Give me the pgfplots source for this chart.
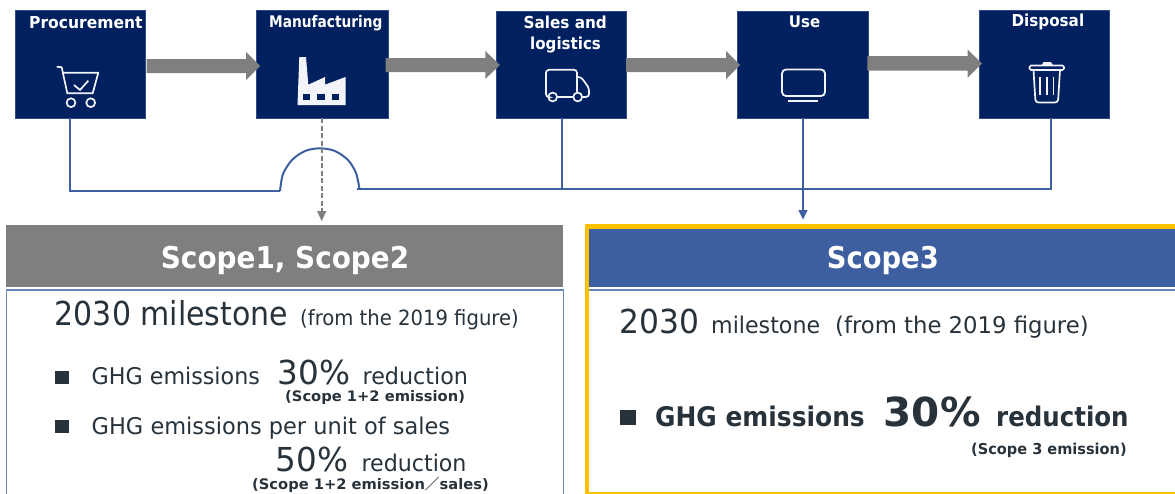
\documentclass[border=0pt]{standalone}
\usepackage{pgfplots}
\usepackage{fontspec}
\setmainfont{DejaVu Sans}
\newfontfamily\cjk{Noto Sans CJK JP}
\pgfplotsset{compat=1.18}
\definecolor{navy}{HTML}{002060}
\definecolor{navyedge}{HTML}{2F4A86}
\definecolor{arr}{HTML}{7F7F7F}
\definecolor{lblue}{HTML}{3E5F9F}
\definecolor{frameblue}{HTML}{6A85B8}
\definecolor{gold}{HTML}{FFC000}
\definecolor{txt}{HTML}{28323B}
\definecolor{ico}{HTML}{F2F4F9}
\newcommand{\tx}[6][txt]{\node[anchor=base west,inner sep=0pt,text=#1] at (axis cs:#2,#3) {\resizebox{#5pt}{\height}{\fontsize{#4}{#4}\selectfont #6}};}
\begin{document}
\begin{tikzpicture}
\path[use as bounding box] (0,0) rectangle (1175pt,493pt);
\begin{axis}[
  at={(0,0)}, anchor=south west,
  scale only axis, width=1175pt, height=493pt,
  xmin=0, xmax=1175, ymin=0, ymax=493, y dir=reverse,
  hide axis, no markers, line join=miter,
]
% process boxes
\addplot[fill=navy,draw=navyedge,line width=0.6pt] coordinates {(15.5,10)(145.7,10)(145.7,118)(15.5,118)} --cycle;
\addplot[fill=navy,draw=navyedge,line width=0.6pt] coordinates {(256.5,10)(388,10)(388,118)(256.5,118)} --cycle;
\addplot[fill=navy,draw=navyedge,line width=0.6pt] coordinates {(496.5,11)(626.5,11)(626.5,118)(496.5,118)} --cycle;
\addplot[fill=navy,draw=navyedge,line width=0.6pt] coordinates {(737.5,11)(868.7,11)(868.7,118)(737.5,118)} --cycle;
\addplot[fill=navy,draw=navyedge,line width=0.6pt] coordinates {(979.5,10)(1109.7,10)(1109.7,118)(979.5,118)} --cycle;
% grey arrows
\addplot[fill=arr,draw=none] coordinates {(146.5,59)(246,59)(246,52)(260,66)(246,80)(246,73)(146.5,73)} --cycle;
\addplot[fill=arr,draw=none] coordinates {(385.5,58)(485.3,58)(485.3,51)(500,65)(485.3,79)(485.3,72)(385.5,72)} --cycle;
\addplot[fill=arr,draw=none] coordinates {(626,58)(726,58)(726,51)(740,65)(726,79)(726,72)(626,72)} --cycle;
\addplot[fill=arr,draw=none] coordinates {(867.3,56)(967.7,56)(967.7,49.7)(982,63.5)(967.7,77.7)(967.7,70.7)(867.3,70.7)} --cycle;
% connectors
\addplot[draw=lblue,line width=2pt] coordinates {(70,118)(70,191)(280,191)};
\addplot[draw=lblue,line width=2pt,smooth] coordinates {(280,191)(283,174)(292,160)(305,151)(320,148.3)(335,151)(348,160)(356,173)(359.5,189)};
\addplot[draw=lblue,line width=2pt] coordinates {(356.5,189)(1050.5,189)(1050.5,118)};
\addplot[draw=lblue,line width=2pt] coordinates {(561.5,118)(561.5,189)};
\addplot[draw=lblue,line width=2pt] coordinates {(803,118)(803,211)};
\addplot[fill=lblue,draw=none] coordinates {(798.3,210)(807.7,210)(803,219.5)} --cycle;
\addplot[draw=arr,line width=1.8pt,dash pattern=on 5pt off 2.5pt] coordinates {(321.7,118)(321.7,212)};
\addplot[fill=arr,draw=none] coordinates {(317,211)(326.4,211)(321.7,221)} --cycle;
% scope 1,2 panel
\addplot[fill=arr,draw=none] coordinates {(6.4,224.5)(563.4,224.5)(563.4,287)(6.4,287)} --cycle;
\addplot[draw=frameblue,line width=1.5pt] coordinates {(6.5,494)(6.5,290)(563.5,290)(563.5,494)};
\addplot[fill=txt,draw=none] coordinates {(55.3,370.7)(69,370.7)(69,383.7)(55.3,383.7)} --cycle;
\addplot[fill=txt,draw=none] coordinates {(55.3,420)(69,420)(69,433.3)(55.3,433.3)} --cycle;
% scope 3 panel
\addplot[draw=gold,line width=4.5pt] coordinates {(1178,226.3)(586.8,226.3)(586.8,494)(1178,494)};
\addplot[fill=lblue,draw=none] coordinates {(589,228.7)(1178,228.7)(1178,286.7)(589,286.7)} --cycle;
\addplot[draw=frameblue,line width=1.5pt] coordinates {(589,290)(1178,290)};
\addplot[fill=txt,draw=none] coordinates {(620,410)(635.8,410)(635.8,425)(620,425)} --cycle;
% cart icon
\addplot[draw=ico,line width=1.7pt,line join=round] coordinates {(56.7,66.7)(61.7,67.3)(67.3,93.3)(92.7,93.3)(98.3,72.7)(63,72.7)};
\addplot[draw=ico,line width=1.7pt] coordinates {(74,85)(80,90)(88.3,80.7)};
\draw[ico,line width=1.7pt] (axis cs:71,102.7) circle[radius=4.4pt];
\draw[ico,line width=1.7pt] (axis cs:90.7,102.7) circle[radius=4.4pt];
% factory icon
\addplot[fill=ico,draw=none] coordinates {(299.3,57)(306,57)(308.3,84.7)(325,77)(325,84.7)(345.5,77)(345.5,105)(297.5,105)} --cycle;
\addplot[fill=navy,draw=none] coordinates {(302.7,94)(310,94)(310,100)(302.7,100)} --cycle;
\addplot[fill=navy,draw=none] coordinates {(317.3,94)(325,94)(325,100)(317.3,100)} --cycle;
\addplot[fill=navy,draw=none] coordinates {(331.7,94)(339.3,94)(339.3,100)(331.7,100)} --cycle;
% truck icon
\addplot[draw=ico,line width=1.7pt,rounded corners=3pt] coordinates {(548.2,97)(546,97)(546,69.8)(577,69.8)(577,92)};
\addplot[draw=ico,line width=1.7pt,rounded corners=3pt] coordinates {(577,77)(581,77)(589,88)(589,97)(582.3,97)};
\addplot[draw=ico,line width=1.7pt] coordinates {(557.3,97)(573,97)};
\draw[ico,line width=1.7pt] (axis cs:552.7,97) circle[radius=4.4pt];
\draw[ico,line width=1.7pt] (axis cs:577.7,97) circle[radius=4.4pt];
% monitor icon
\addplot[draw=ico,line width=1.8pt,rounded corners=4pt] coordinates {(782,69.5)(825,69.5)(825,96)(782,96)} --cycle;
\addplot[draw=ico,line width=1.8pt] coordinates {(787.7,100.7)(817.7,100.7)};
% bin icon
\addplot[draw=ico,line width=1.7pt,rounded corners=1.5pt] coordinates {(1029.5,65.5)(1064,65.5)(1064,70)(1029.5,70)} --cycle;
\addplot[fill=ico,draw=none] coordinates {(1041.7,65)(1043.5,62.2)(1051,62.2)(1053,65)} --cycle;
\addplot[draw=ico,line width=1.7pt,rounded corners=3pt] coordinates {(1033.5,70)(1035.5,102.5)(1058,102.5)(1060,70)};
\addplot[draw=ico,line width=1.6pt] coordinates {(1040.2,77)(1040.2,95)};
\addplot[draw=ico,line width=1.6pt] coordinates {(1046.7,77)(1046.7,95)};
\addplot[draw=ico,line width=1.6pt] coordinates {(1053.3,77)(1053.3,95)};
% box titles
\tx[white]{29}{28.3}{16.5}{113.3}{\bfseries Procurement}
\tx[white]{269}{27.3}{16}{113.3}{\bfseries Manufacturing}
\tx[white]{523.3}{28.3}{16.5}{83.4}{\bfseries Sales and}
\tx[white]{530}{49.3}{16.5}{70.7}{\bfseries logistics}
\tx[white]{788.7}{27.3}{16}{31.3}{\bfseries Use}
\tx[white]{1011.3}{26}{16.5}{72.7}{\bfseries Disposal}
% panel titles
\tx[white]{160.7}{268}{30}{248.3}{\bfseries Scope1, Scope2}
\tx[white]{826.7}{268}{30}{111.9}{\bfseries Scope3}
% left panel text
\tx{54.6}{325}{33}{233.4}{2030 milestone}
\tx{300}{325}{21}{218.6}{(from the 2019 figure)}
\tx{91.5}{384.3}{23}{168.2}{GHG emissions}
\tx{277.4}{384.3}{33}{72.6}{30\%}
\tx{362.4}{384.3}{23}{105.4}{reduction}
\tx{285}{401}{14.5}{179.8}{\bfseries (Scope 1+2 emission)}
\tx{91.5}{434}{23}{358.3}{GHG emissions per unit of sales}
\tx{275.5}{471.7}{33}{72.5}{50\%}
\tx{361.3}{471.7}{23}{105}{reduction}
\tx{252}{489.3}{14.5}{236.5}{\bfseries (Scope 1+2 emission{\cjk ／}sales)}
% right panel text
\tx{619}{333.3}{33}{79.8}{2030}
\tx{711}{333.3}{23}{109}{milestone}
\tx{835}{333.3}{23}{253.5}{(from the 2019 figure)}
\tx{655}{426.7}{27}{209.6}{\bfseries GHG emissions}
\tx{883.6}{426.7}{40}{96.8}{\bfseries 30\%}
\tx{996}{426.7}{27}{132.4}{\bfseries reduction}
\tx{971}{454.3}{15}{155.5}{\bfseries (Scope 3 emission)}
\end{axis}
\end{tikzpicture}
\end{document}
